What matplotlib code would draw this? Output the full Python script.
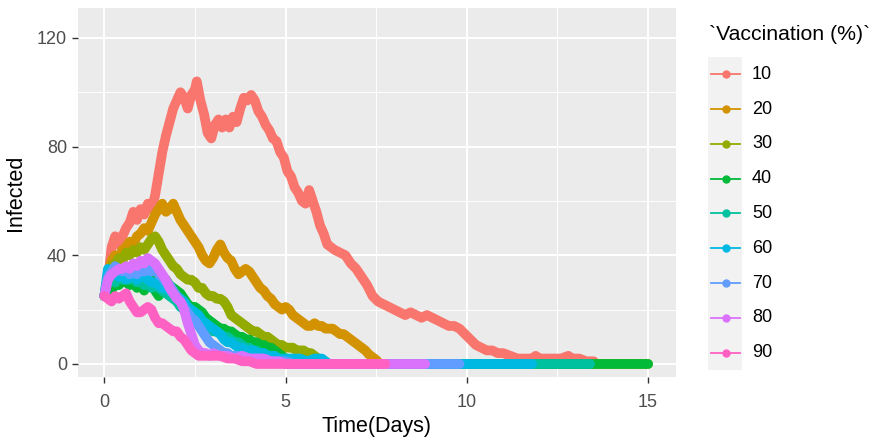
import matplotlib
matplotlib.use("Agg")
import matplotlib.pyplot as plt
from matplotlib.lines import Line2D
from matplotlib.patches import Rectangle

plt.rcParams['font.family'] = ['Liberation Sans', 'DejaVu Sans']

# Vaccination levels (%) and the simulated infected counts over time (days)
levels = ["10", "20", "30", "40", "50", "60", "70", "80", "90"]
colors = ["#F8766D", "#D39200", "#93AA00", "#00BA38", "#00C19F",
          "#00B9E3", "#619CFF", "#DB72FB", "#FF61C3"]

t_10 = [0.0, 0.1, 0.2, 0.3, 0.4, 0.5, 0.6, 0.7, 0.8, 0.9, 1.0, 1.1, 1.2, 1.3, 1.4,
        1.5, 1.6, 1.7, 1.8, 1.9, 2.0, 2.1, 2.2, 2.3, 2.4, 2.5, 2.55, 2.65, 2.75, 2.85,
        2.95, 3.05, 3.15, 3.25, 3.35, 3.45, 3.55, 3.65, 3.75, 3.85, 3.95, 4.05, 4.15,
        4.25, 4.35, 4.45, 4.55, 4.65, 4.75, 4.85, 4.95, 5.05, 5.15, 5.25, 5.35, 5.45,
        5.55, 5.65, 5.75, 5.85, 5.95, 6.05, 6.15, 6.25, 6.35, 6.5, 6.65, 6.8, 6.95,
        7.1, 7.25, 7.4, 7.55, 7.7, 7.85, 8.0, 8.15, 8.3, 8.45, 8.6, 8.75, 8.9, 9.05,
        9.2, 9.35, 9.5, 9.65, 9.8, 9.95, 10.1, 10.25, 10.4, 10.55, 10.7, 10.85, 11.0,
        11.2, 11.4, 11.6, 11.8, 11.9, 12.0, 12.2, 12.4, 12.6, 12.8, 12.9, 13.1, 13.3,
        13.5]
i_10 = [25, 31, 43, 47, 44, 47, 50, 52, 56, 53, 57, 55, 59, 57, 62,
        70, 78, 84, 89, 94, 97, 100, 98, 94, 99, 101, 104, 97, 92, 85,
        83, 88, 90, 87, 90, 87, 91, 89, 94, 98, 97, 99, 97,
        93, 91, 88, 86, 83, 82, 78, 76, 71, 69, 65, 63, 60,
        59, 64, 60, 56, 51, 48, 44, 43, 42, 41, 40, 37, 35,
        32, 29, 25, 23, 22, 21, 20, 19, 18, 19, 18, 17, 18, 17,
        16, 15, 14, 14, 13, 11, 9, 7, 6, 5, 5, 4, 4,
        3, 2, 2, 2, 3, 2, 2, 2, 2, 3, 2, 2, 1,
        1]

t_20 = [0.0, 0.1, 0.2, 0.3, 0.4, 0.5, 0.6, 0.7, 0.8, 0.9, 1.0, 1.1, 1.2, 1.3, 1.4,
        1.5, 1.6, 1.7, 1.8, 1.9, 2.0, 2.1, 2.2, 2.3, 2.4, 2.5, 2.6, 2.7, 2.8, 2.9,
        3.0, 3.1, 3.2, 3.3, 3.4, 3.5, 3.6, 3.7, 3.8, 3.9, 4.0, 4.1, 4.2, 4.3, 4.4,
        4.5, 4.6, 4.7, 4.8, 4.9, 5.0, 5.1, 5.2, 5.3, 5.4, 5.5, 5.6, 5.7, 5.8, 5.9,
        6.0, 6.1, 6.2, 6.3, 6.4, 6.5, 6.6, 6.7, 6.8, 6.9, 7.0, 7.1, 7.2, 7.3, 7.4,
        7.5, 7.6]
i_20 = [25, 33, 38, 40, 39, 42, 43, 45, 44, 47, 48, 50, 49, 52, 55,
        57, 59, 56, 57, 59, 56, 53, 51, 49, 47, 45, 43, 40, 38, 37,
        39, 42, 44, 41, 39, 38, 35, 33, 34, 35, 34, 32, 30, 28, 27,
        25, 24, 22, 21, 20, 21, 20, 18, 17, 16, 15, 14, 14, 15, 14,
        14, 13, 13, 13, 12, 11, 11, 10, 9, 8, 7, 6, 5, 3.5, 2.5,
        1.5, 0]

t_30 = [0.0, 0.1, 0.2, 0.3, 0.4, 0.5, 0.6, 0.7, 0.8, 0.9, 1.0, 1.1, 1.2, 1.3, 1.4,
        1.5, 1.6, 1.7, 1.8, 1.9, 2.0, 2.1, 2.2, 2.3, 2.4, 2.5, 2.6, 2.7, 2.8, 2.9,
        3.0, 3.1, 3.2, 3.3, 3.4, 3.5, 3.6, 3.7, 3.8, 3.9, 4.0, 4.1, 4.2, 4.3, 4.4,
        4.5, 4.6, 4.7, 4.8, 4.9, 5.0, 5.1, 5.2, 5.3, 5.4, 5.5, 5.6, 5.7, 5.8, 5.9,
        6.0, 6.1, 15.0]
i_30 = [25, 32, 36, 37, 39, 38, 41, 40, 42, 41, 43, 42, 44, 46, 47,
        45, 42, 40, 38, 36, 35, 33, 32, 31, 31, 30, 28, 28, 26, 25,
        25, 24, 24, 23, 21, 18, 17, 16, 15, 14, 13, 12, 12, 11, 10,
        10, 9, 8, 7, 7, 6, 6, 6, 5, 5, 5, 4, 4, 3, 2,
        1, 0, 0]

t_40 = [0.0, 0.1, 0.2, 0.3, 0.4, 0.5, 0.6, 0.7, 0.8, 0.9, 1.0, 1.1, 1.2, 1.3, 1.4,
        1.5, 1.6, 1.7, 1.8, 1.9, 2.0, 2.1, 2.2, 2.3, 2.4, 2.5, 2.6, 2.7, 2.8, 2.9,
        3.0, 3.1, 3.2, 3.3, 3.4, 3.5, 3.6, 3.7, 3.8, 3.9, 4.0, 4.1, 4.2, 4.3, 4.4,
        4.5, 4.6, 4.7, 4.8, 4.9, 5.0, 5.1, 5.2, 15.0]
i_40 = [25, 28, 27, 30, 29, 31, 30, 29, 30, 28, 29, 27, 30, 32, 27,
        25, 30, 31, 29, 28, 27, 26, 24, 22, 21, 21, 20, 19, 17, 16,
        15, 14, 13, 13, 12, 12, 11, 10, 10, 9, 9, 8, 8, 7, 7,
        6, 6, 5, 4, 3, 2, 1, 0, 0]

t_50 = [0.0, 0.1, 0.2, 0.3, 0.4, 0.5, 0.6, 0.7, 0.8, 0.9, 1.0, 1.1, 1.2, 1.3, 1.4,
        1.5, 1.6, 1.7, 1.8, 1.9, 2.0, 2.1, 2.2, 2.3, 2.4, 2.5, 2.6, 2.7, 2.8, 2.9,
        3.0, 3.1, 3.2, 3.3, 3.4, 3.5, 3.6, 3.7, 3.8, 3.9, 4.0, 4.1, 4.2, 4.3, 4.4,
        4.5, 4.6, 4.7, 4.8, 4.9, 5.0, 13.4]
i_50 = [25, 31, 33, 30, 32, 31, 33, 31, 32, 30, 31, 29, 30, 28, 29,
        28, 27, 26, 25, 24, 23, 21, 20, 19, 18, 17, 16, 15, 14, 13,
        12, 12, 11, 10, 10, 9, 8, 8, 7, 6, 6, 5, 5, 4, 4,
        3, 3, 2, 2, 1, 0, 0]

t_60 = [0.0, 0.1, 0.2, 0.3, 0.4, 0.5, 0.6, 0.7, 0.8, 0.9, 1.0, 1.1, 1.2, 1.3, 1.4,
        1.5, 1.6, 1.7, 1.8, 1.9, 2.0, 2.1, 2.2, 2.3, 2.4, 2.5, 2.6, 2.7, 2.8, 2.9,
        3.0, 3.1, 3.2, 3.3, 3.4, 3.5, 3.6, 3.7, 3.8, 3.9, 4.0, 4.1, 4.2, 4.3, 4.4,
        4.5, 4.6, 4.7, 4.8, 5.0, 5.2, 5.4, 5.6, 5.8, 6.0, 6.1, 6.2, 11.8]
i_60 = [25, 35, 33, 34, 32, 33, 31, 32, 33, 31, 32, 33, 31, 30, 30,
        29, 28, 28, 27, 26, 25, 24, 23, 21, 20, 19, 18, 16, 15, 14,
        13, 12, 11, 9, 8, 8, 7, 6, 6, 5, 5, 5, 4, 4, 4,
        3, 3, 3, 2, 2, 2, 2, 1, 2, 2, 1, 0, 0]

t_70 = [0.0, 0.1, 0.2, 0.3, 0.4, 0.5, 0.6, 0.7, 0.8, 0.9, 1.0, 1.1, 1.2, 1.3, 1.4,
        1.5, 1.6, 1.7, 1.8, 1.9, 2.0, 2.1, 2.2, 2.3, 2.4, 2.5, 2.6, 2.7, 2.8, 2.9,
        3.0, 3.1, 3.2, 3.3, 3.4, 3.5, 3.6, 3.8, 4.0, 4.2, 4.4, 4.6, 4.8, 5.0, 5.2,
        9.8]
i_70 = [25, 32, 34, 36, 35, 34, 35, 33, 34, 33, 35, 34, 35, 34, 35,
        33, 32, 30, 29, 27, 25, 23, 21, 19, 17, 16, 14, 12, 10, 8,
        7, 6, 5, 4, 4, 3, 3, 3, 2, 2, 2, 1, 1, 1, 0,
        0]

t_80 = [0.0, 0.1, 0.2, 0.3, 0.4, 0.5, 0.6, 0.7, 0.8, 0.9, 1.0, 1.1, 1.2, 1.3, 1.4,
        1.5, 1.6, 1.7, 1.8, 1.9, 2.0, 2.1, 2.2, 2.3, 2.4, 2.5, 2.6, 2.7, 2.8, 2.9,
        3.0, 3.2, 3.4, 3.6, 3.8, 4.0, 4.2, 4.4, 4.6, 4.8, 5.0, 8.85]
i_80 = [25, 31, 33, 34, 35, 35, 36, 35, 37, 36, 38, 37, 39, 38, 37,
        35, 33, 31, 28, 26, 24, 23, 20, 15, 11, 7, 5, 4, 4, 3,
        4, 3, 3, 2, 3, 2, 2, 2, 1, 1, 0, 0]

t_90 = [0.0, 0.1, 0.2, 0.3, 0.4, 0.5, 0.6, 0.7, 0.8, 0.9, 1.0, 1.1, 1.2, 1.3, 1.4,
        1.5, 1.6, 1.7, 1.8, 1.9, 2.0, 2.1, 2.2, 2.3, 2.4, 2.5, 2.6, 2.7, 2.8, 3.0,
        3.2, 3.4, 3.6, 3.8, 4.0, 4.2, 7.75]
i_90 = [25, 24, 23, 25, 24, 25, 26, 23, 21, 19, 19, 20, 21, 20, 17,
        15, 15, 14, 13, 12, 12, 10, 9, 7, 5, 4, 3, 3, 3, 3,
        3, 2, 2, 1, 1, 0, 0]

times = [t_10, t_20, t_30, t_40, t_50, t_60, t_70, t_80, t_90]
infected = [i_10, i_20, i_30, i_40, i_50, i_60, i_70, i_80, i_90]

x_ticks = [0, 5, 10, 15]
y_ticks = [0, 40, 80, 120]

W, H = 874, 440
fig = plt.figure(figsize=(W / 100, H / 100), dpi=100)
fig.patch.set_facecolor("white")

# panel in pixel coordinates: left 78, right 676, top 8, bottom 377
ax = fig.add_axes([78 / W, (H - 377) / H, (676 - 78) / W, (377 - 8) / H])
ax.set_facecolor("#EBEBEB")
for s in ax.spines.values():
    s.set_visible(False)

ax.set_xlim(-0.726, 15.77)
ax.set_ylim(-4.79, 131.0)

# grid: minor then major, white
for xm in [2.5, 7.5, 12.5]:
    ax.axvline(xm, color="white", lw=0.7, zorder=0.5)
for ym in [20, 60, 100]:
    ax.axhline(ym, color="white", lw=0.7, zorder=0.5)
for xv in x_ticks:
    ax.axvline(xv, color="white", lw=1.4, zorder=0.6)
for yv in y_ticks:
    ax.axhline(yv, color="white", lw=1.4, zorder=0.6)

for t, v, c in zip(times, infected, colors):
    ax.plot(t, v, color=c, lw=7.0, solid_joinstyle="round",
            solid_capstyle="round", zorder=2)

ax.set_xticks(x_ticks)
ax.set_yticks(y_ticks)
ax.set_xticklabels([str(x) for x in x_ticks])
ax.set_yticklabels([str(y) for y in y_ticks])
ax.tick_params(axis="both", colors="#333333", labelcolor="#4D4D4D",
               labelsize=13, length=4, width=1)
ax.tick_params(axis="x", pad=8)
ax.tick_params(axis="y", pad=4)

ax.set_xlabel("Time(Days)", fontsize=15.5, color="black", labelpad=4)
ax.set_ylabel("Infected", fontsize=15.5, color="black", labelpad=8)

# legend drawn in figure pixel coordinates
def fx(px):
    return px / W

def fy(py):
    return (H - py) / H

fig.text(fx(709), fy(35), "`Vaccination (%)`", fontsize=15.3, color="black",
         ha="left", va="center")
key_y0 = 74.5
key_dy = 34.75
fig.patches.append(Rectangle((fx(708), fy(key_y0 - key_dy / 2 + key_dy * 9)),
                             34 / W, key_dy * 9 / H, transform=fig.transFigure,
                             facecolor="#F2F2F2", edgecolor="none"))
for k, (lab, c) in enumerate(zip(levels, colors)):
    yc = key_y0 + k * key_dy
    fig.lines.append(Line2D([fx(711), fx(740)], [fy(yc), fy(yc)],
                            transform=fig.transFigure, color=c, lw=1.3))
    fig.lines.append(Line2D([fx(725.5)], [fy(yc)], transform=fig.transFigure,
                            color=c, marker="o", markersize=5, lw=0))
    fig.text(fx(752), fy(yc), lab, fontsize=13, color="black",
             ha="left", va="center")

fig.savefig("out.png", dpi=100)
